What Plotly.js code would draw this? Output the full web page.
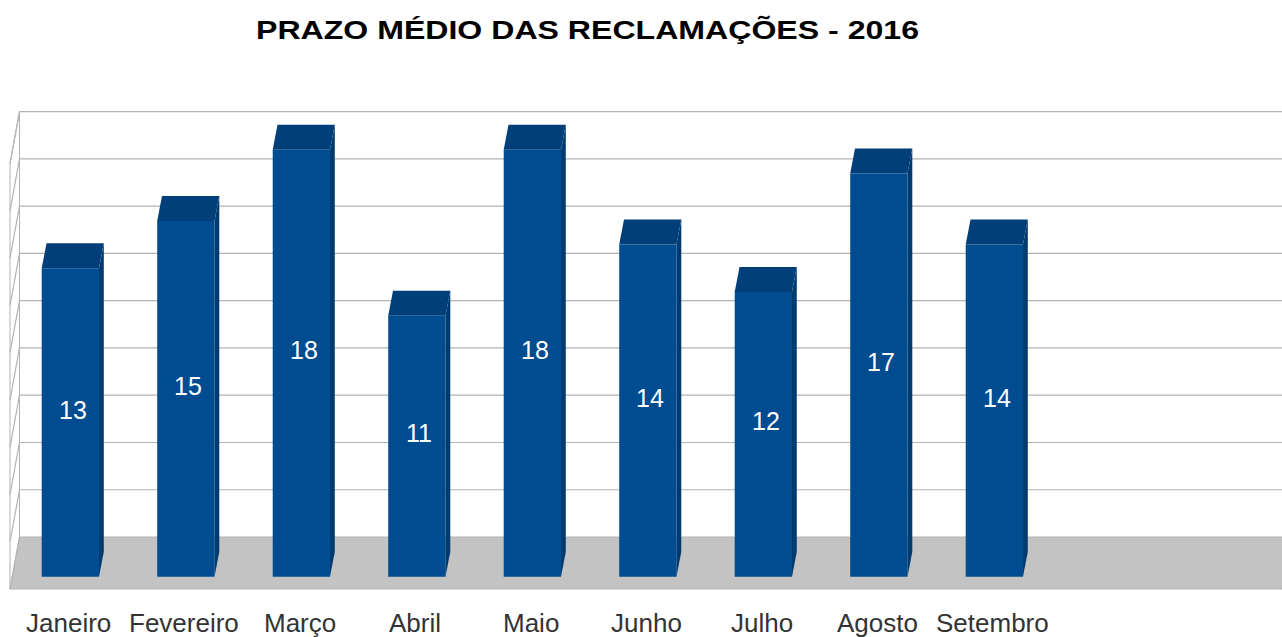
<!DOCTYPE html>
<html>
<head>
<meta charset="utf-8">
<script src="https://cdn.plot.ly/plotly-3.0.1.min.js"></script>
<style>html,body{margin:0;padding:0;background:#fff;}#chart{width:1282px;height:637px;}</style>
</head>
<body>
<div id="chart"></div>
<script>
// ---- data ----
const categories = ['Janeiro', 'Fevereiro', 'Março', 'Abril', 'Maio', 'Junho', 'Julho', 'Agosto', 'Setembro'];
const values = [13, 15, 18, 11, 18, 14, 12, 17, 14];
const gridTicks = [0, 2, 4, 6, 8, 10, 12, 14, 16, 18];
const chartTitle = 'PRAZO MÉDIO DAS RECLAMAÇÕES - 2016';

// ---- geometry / style ----
const W = 1282, H = 637;
const X0PX = 70.35, SLOT = 115.5;      // px of first category centre, px per category
const Y0PX = 576.7, UNIT = 23.72;      // px of value 0 at bar front plane, px per unit
const BAR_W = 0.496;
const DEPTH_DX = 4.8 / SLOT, DEPTH_DY = 25 / UNIT;   // bar depth (oblique)
const FRONT = '#004c91', TOP = '#003f7a', SIDE = '#003b70';
const FONT = 'Liberation Sans, Arial, sans-serif';
const TITLE_WIDTH = 663;

const xRange = [(0 - X0PX) / SLOT, (W - X0PX) / SLOT];
const yRange = [(Y0PX - H) / UNIT, Y0PX / UNIT];

const idx = categories.map((c, i) => i);
const traces = [];
// front faces
traces.push({
  type: 'bar', x: idx, y: values, width: BAR_W, base: 0,
  marker: { color: FRONT, line: { width: 0 } }, hoverinfo: 'skip', showlegend: false
});
// top and side faces
values.forEach((v, i) => {
  const l = i - BAR_W / 2, r = i + BAR_W / 2;
  traces.push({
    type: 'scatter', mode: 'lines', fill: 'toself', fillcolor: TOP,
    line: { width: 0, color: TOP }, hoverinfo: 'skip', showlegend: false,
    x: [l, r, r + DEPTH_DX, l + DEPTH_DX, l],
    y: [v, v, v + DEPTH_DY, v + DEPTH_DY, v]
  });
  traces.push({
    type: 'scatter', mode: 'lines', fill: 'toself', fillcolor: SIDE,
    line: { width: 0, color: SIDE }, hoverinfo: 'skip', showlegend: false,
    x: [r, r, r + DEPTH_DX, r + DEPTH_DX, r],
    y: [0, v, v + DEPTH_DY, DEPTH_DY, 0]
  });
});

// ---- background (walls, floor, grid) in pixel space ----
const px = x => x / W, py = y => 1 - y / H;
const P = pts => 'M ' + pts.map(p => px(p[0]) + ' ' + py(p[1])).join(' L ') + ' Z';
const L = pts => 'M ' + pts.map(p => px(p[0]) + ' ' + py(p[1])).join(' L ');
const BACK_FLOOR = 537, FRONT_FLOOR = 589, BACK_L = 19.5, FRONT_L = 10, BACK_UNIT = 23.63;
const topBack = BACK_FLOOR - 18 * BACK_UNIT;
const shapes = [];
const GRID = '#b3b3b3';
// left wall
shapes.push({ type: 'path', xref: 'paper', yref: 'paper', layer: 'below',
  path: P([[FRONT_L, topBack + 52], [BACK_L, topBack], [BACK_L, BACK_FLOOR], [FRONT_L, FRONT_FLOOR]]),
  fillcolor: '#ffffff', line: { color: GRID, width: 1 } });
// floor
shapes.push({ type: 'path', xref: 'paper', yref: 'paper', layer: 'below',
  path: P([[FRONT_L, FRONT_FLOOR], [BACK_L, BACK_FLOOR], [1292, BACK_FLOOR], [1282, FRONT_FLOOR]]),
  fillcolor: '#c3c3c3', line: { color: GRID, width: 1.2 } });
// gridlines
gridTicks.forEach(t => {
  if (t === 0) return;
  const by = BACK_FLOOR - t * BACK_UNIT;
  shapes.push({ type: 'path', xref: 'paper', yref: 'paper', layer: 'below',
    path: L([[FRONT_L, by + 52], [BACK_L, by], [W + 5, by]]),
    line: { color: GRID, width: 1.2 } });
});

// ---- annotations ----
const annotations = [];
categories.forEach((c, i) => {
  annotations.push({ x: i, y: py(623), xref: 'x', yref: 'paper', text: c, showarrow: false,
    xanchor: 'center', yanchor: 'middle', xshift: -1.5,
    font: { family: FONT, size: 26, color: '#333333' } });
  annotations.push({ x: i, y: values[i] / 2, xref: 'x', yref: 'y', text: String(values[i]), showarrow: false,
    xanchor: 'center', yanchor: 'middle', xshift: 2.5, yshift: 13,
    font: { family: FONT, size: 25, color: '#ffffff' } });
});

const layout = {
  width: W, height: H,
  margin: { l: 0, r: 0, t: 0, b: 0, pad: 0 },
  paper_bgcolor: '#ffffff', plot_bgcolor: 'rgba(0,0,0,0)',
  title: { text: chartTitle, x: 587.5 / W, xanchor: 'center', y: 1 - 30 / H, yanchor: 'middle',
    xref: 'paper', yref: 'paper', font: { family: FONT, size: 26, weight: 'bold', color: '#000000' } },
  xaxis: { range: xRange, visible: false, fixedrange: true },
  yaxis: { range: yRange, visible: false, fixedrange: true },
  showlegend: false, barmode: 'overlay',
  shapes: shapes, annotations: annotations
};

Plotly.newPlot('chart', traces, layout, { displayModeBar: false, staticPlot: true }).then(gd => {
  const t = gd.querySelector('.gtitle');
  if (t) {
    t.setAttribute('textLength', TITLE_WIDTH);
    t.setAttribute('lengthAdjust', 'spacingAndGlyphs');
  }
});
</script>
</body>
</html>
